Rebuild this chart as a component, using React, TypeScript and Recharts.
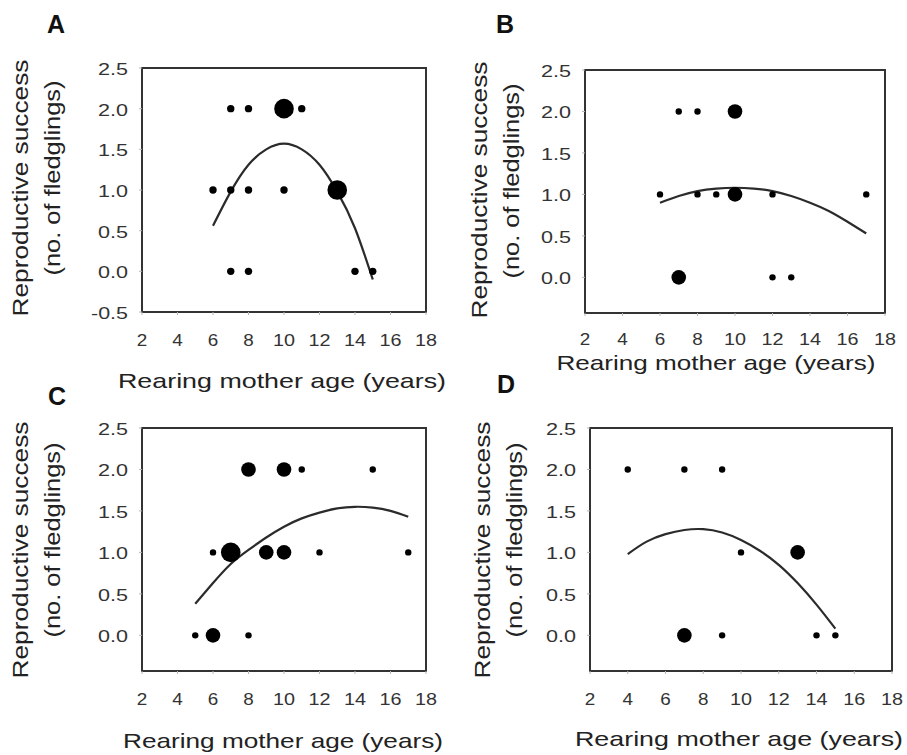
import { ComposedChart, Line, ReferenceArea, Scatter, XAxis, YAxis } from "recharts";

const FONT = '"Liberation Sans", Arial, Helvetica, sans-serif';

const xTicks = [2, 4, 6, 8, 10, 12, 14, 16, 18];
const yTicksA = [-0.5, 0, 0.5, 1, 1.5, 2, 2.5];
const yTicksBCD = [0, 0.5, 1, 1.5, 2, 2.5];

// A
const ageA = [7, 8, 10, 11, 6, 7, 8, 10, 13, 7, 8, 14, 15];
const successA = [2, 2, 2, 2, 1, 1, 1, 1, 1, 0, 0, 0, 0];
const countA = [1, 1, 3, 1, 1, 1, 1, 1, 3, 1, 1, 1, 1];
const fitAgeA = [6, 7, 8, 9, 10, 11, 12, 13, 14, 15];
const fitA = [0.56, 0.98, 1.31, 1.5, 1.57, 1.5, 1.31, 0.98, 0.53, -0.1];

// B
const ageB = [7, 8, 10, 6, 8, 9, 10, 12, 17, 7, 12, 13];
const successB = [2, 2, 2, 1, 1, 1, 1, 1, 1, 0, 0, 0];
const countB = [1, 1, 2, 1, 1, 1, 2, 1, 1, 2, 1, 1];
const fitAgeB = [6, 7, 8, 9, 10, 11, 12, 13, 14, 15, 16, 17];
const fitB = [0.9, 0.98, 1.04, 1.07, 1.08, 1.07, 1.04, 0.98, 0.9, 0.8, 0.67, 0.53];

// C
const ageC = [8, 10, 11, 15, 6, 7, 9, 10, 12, 17, 5, 6, 8];
const successC = [2, 2, 2, 2, 1, 1, 1, 1, 1, 1, 0, 0, 0];
const countC = [2, 2, 1, 1, 1, 3, 2, 2, 1, 1, 1, 2, 1];
const fitAgeC = [5, 6, 7, 8, 9, 10, 11, 12, 13, 14, 15, 16, 17];
const fitC = [0.38, 0.63, 0.86, 1.03, 1.18, 1.31, 1.41, 1.48, 1.53, 1.55, 1.54, 1.5, 1.43];

// D
const ageD = [4, 7, 9, 10, 13, 7, 9, 14, 15];
const successD = [2, 2, 2, 1, 1, 0, 0, 0, 0];
const countD = [1, 1, 1, 1, 2, 2, 1, 1, 1];
const fitAgeD = [4, 5, 6, 7, 8, 9, 10, 11, 12, 13, 14, 15];
const fitD = [0.98, 1.13, 1.22, 1.27, 1.28, 1.24, 1.15, 1.02, 0.85, 0.63, 0.37, 0.08];

const toPoints = (xs: number[], ys: number[], ns: number[]) =>
  xs.map((x, i) => ({ x, y: ys[i], n: ns[i] }));
const toCurve = (xs: number[], ys: number[]) => xs.map((x, i) => ({ x, y: ys[i] }));

const XTick = (p: any) => {
  const s = String(p.payload.value);
  return (
    <text
      x={p.x}
      y={p.y}
      textAnchor="middle"
      fontSize={17}
      fill="#333"
      fontFamily={FONT}
      textLength={s.length > 1 ? 22 : 10.5}
      lengthAdjust="spacingAndGlyphs"
    >
      {s}
    </text>
  );
};

const YTick = (p: any) => {
  const s = Number(p.payload.value).toFixed(1);
  return (
    <text
      x={p.x}
      y={p.y + 7}
      textAnchor="end"
      fontSize={16.5}
      fill="#333"
      fontFamily={FONT}
      textLength={s.length > 3 ? 37 : 30}
      lengthAdjust="spacingAndGlyphs"
    >
      {s}
    </text>
  );
};

type Frame = { x0: number; x1: number; y0: number; y1: number };

function Panel(props: {
  frame: Frame;
  yDomain: [number, number];
  yTicks: number[];
  points: { x: number; y: number; n: number }[];
  fit: { x: number; y: number }[];
  small: number;
  tickGap: number;
}) {
  const { frame, yDomain, yTicks, points, fit, small, tickGap } = props;
  const ML = 70, MT = 20, MR = 20, MB = 50;
  const w = frame.x1 - frame.x0 + ML + MR;
  const h = frame.y1 - frame.y0 + MT + MB;
  const rad = (n: number) => (n === 1 ? small : n === 2 ? 7.3 : 9.8);
  return (
    <div style={{ position: "absolute", left: frame.x0 - ML, top: frame.y0 - MT }}>
      <ComposedChart width={w} height={h} margin={{ top: MT, right: MR, bottom: 0, left: 0 }}>
        <XAxis
          dataKey="x"
          type="number"
          domain={[2, 18]}
          ticks={xTicks}
          interval={0}
          allowDataOverflow
          axisLine={false}
          tickLine={{ stroke: "#b5b5b5" }}
          tickSize={3}
          tickMargin={tickGap}
          height={MB}
          tick={XTick}
        />
        <YAxis
          type="number"
          domain={yDomain}
          ticks={yTicks}
          interval={0}
          allowDataOverflow
          axisLine={false}
          tickLine={{ stroke: "#b5b5b5" }}
          tickSize={3}
          tickMargin={11}
          width={ML}
          tick={YTick}
        />
        <ReferenceArea
          x1={2}
          x2={18}
          y1={yDomain[0]}
          y2={yDomain[1]}
          fill="none"
          stroke="#333"
          strokeWidth={2}
        />
        <Line
          data={fit}
          dataKey="y"
          type="natural"
          stroke="#2b2b2b"
          strokeWidth={2.2}
          dot={false}
          isAnimationActive={false}
        />
        <Scatter
          data={points}
          dataKey="y"
          fill="#000"
          isAnimationActive={false}
          shape={(s: any) => <circle cx={s.cx} cy={s.cy} r={rad(s.payload.n)} fill="#000" />}
        />
      </ComposedChart>
    </div>
  );
}

const XTitle = ({ cx, y, len }: { cx: number; y: number; len: number }) => (
  <text
    x={cx}
    y={y}
    textAnchor="middle"
    fontSize={21}
    fill="#222"
    fontFamily={FONT}
    textLength={len}
    lengthAdjust="spacingAndGlyphs"
  >
    Rearing mother age (years)
  </text>
);

const YTitle = ({ x1, c1, x2, c2 }: { x1: number; c1: number; x2: number; c2: number }) => (
  <g fontSize={22} fill="#222" fontFamily={FONT}>
    <text
      x={x1}
      y={c1}
      textAnchor="middle"
      transform={`rotate(-90 ${x1} ${c1})`}
      textLength={257}
      lengthAdjust="spacingAndGlyphs"
    >
      Reproductive success
    </text>
    <text
      x={x2}
      y={c2}
      textAnchor="middle"
      transform={`rotate(-90 ${x2} ${c2})`}
      textLength={195}
      lengthAdjust="spacingAndGlyphs"
    >
      (no. of fledglings)
    </text>
  </g>
);

export default function App() {
  return (
    <div style={{ position: "absolute", left: 0, top: 0, width: 907, height: 755, background: "#fff" }}>
      <Panel
        frame={{ x0: 142, x1: 426, y0: 68, y1: 312 }}
        yDomain={[-0.5, 2.5]}
        yTicks={yTicksA}
        points={toPoints(ageA, successA, countA)}
        fit={toCurve(fitAgeA, fitA)}
        small={3.7}
        tickGap={31}
      />
      <Panel
        frame={{ x0: 585, x1: 885, y0: 70, y1: 313 }}
        yDomain={[-0.43, 2.5]}
        yTicks={yTicksBCD}
        points={toPoints(ageB, successB, countB)}
        fit={toCurve(fitAgeB, fitB)}
        small={3.2}
        tickGap={29}
      />
      <Panel
        frame={{ x0: 142, x1: 426, y0: 428, y1: 671 }}
        yDomain={[-0.43, 2.5]}
        yTicks={yTicksBCD}
        points={toPoints(ageC, successC, countC)}
        fit={toCurve(fitAgeC, fitC)}
        small={3.2}
        tickGap={31}
      />
      <Panel
        frame={{ x0: 590, x1: 892, y0: 428, y1: 671 }}
        yDomain={[-0.43, 2.5]}
        yTicks={yTicksBCD}
        points={toPoints(ageD, successD, countD)}
        fit={toCurve(fitAgeD, fitD)}
        small={3.2}
        tickGap={31}
      />
      <svg
        width={907}
        height={755}
        style={{ position: "absolute", left: 0, top: 0, pointerEvents: "none" }}
      >
        <g fontSize={25} fontWeight="bold" fill="#111" fontFamily={FONT} textAnchor="middle">
          <text x={56} y={33}>A</text>
          <text x={505} y={33}>B</text>
          <text x={57} y={405}>C</text>
          <text x={506} y={393}>D</text>
        </g>
        <XTitle cx={282} y={388} len={328} />
        <XTitle cx={716} y={370} len={319} />
        <XTitle cx={283} y={748} len={320} />
        <XTitle cx={739} y={746} len={328} />
        <YTitle x1={28} c1={188} x2={60} c2={178} />
        <YTitle x1={487} c1={190} x2={519} c2={181} />
        <YTitle x1={28} c1={550} x2={60} c2={540} />
        <YTitle x1={490} c1={550} x2={522} c2={540} />
      </svg>
    </div>
  );
}
